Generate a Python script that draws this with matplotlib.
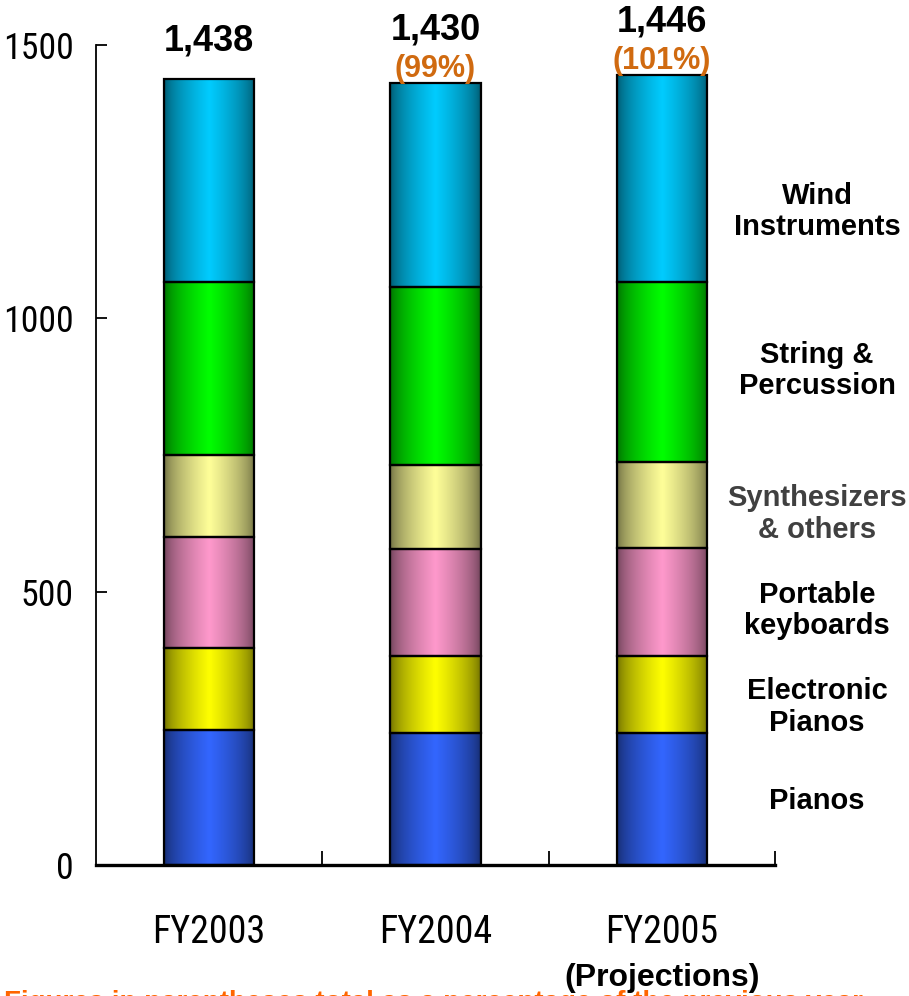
import numpy as np
import matplotlib.pyplot as plt
from matplotlib import font_manager as fm
from matplotlib.colors import to_rgb
from matplotlib.textpath import TextPath

# sales by product group (billion yen)
years = ['FY2003', 'FY2004', 'FY2005']
pianos = [247, 242, 242]
electronic_pianos = [150, 141, 141]
portable_keyboards = [203, 195, 196]
synthesizers = [150, 154, 158]
string_percussion = [317, 326, 330]
wind_instruments = [371, 372, 379]
totals = [1438, 1430, 1446]
pct_prev = [None, '(99%)', '(101%)']

group_names = ['Pianos', 'Electronic\nPianos', 'Portable\nkeyboards',
               'Synthesizers\n& others', 'String &\nPercussion', 'Wind\nInstruments']
group_colors = ['#3366ff', '#ffff00', '#ff99cc', '#ffff99', '#00ff00', '#00ccff']
name_colors = ['black', 'black', 'black', '#404040', 'black', 'black']
name_y = [117, 289, 465, 642, 904, 1196]

bold = ['Liberation Sans', 'DejaVu Sans']


def narrow_font():
    # pick a condensed/narrow regular face if one is installed
    prefs = ['Liberation Sans Narrow', 'Roboto Condensed', 'Noto Sans',
             'Open Sans', 'DejaVu Sans', 'Roboto']
    found = []
    for f in fm.fontManager.ttflist:
        w = f.weight if isinstance(f.weight, int) else 400
        narrow = (f.stretch in ('condensed', 'semi-condensed', 'extra-condensed',
                                'ultra-condensed')
                  or 'Condensed' in f.name or 'Narrow' in f.name)
        if narrow and f.style == 'normal' and w in (400, 500):
            rank = prefs.index(f.name) if f.name in prefs else len(prefs)
            found.append((rank, abs(w - 400), f.fname))
    if found:
        return fm.FontProperties(fname=sorted(found)[0][2])
    return fm.FontProperties(family='DejaVu Sans')


def fit_size(text, prop, width_px, max_size):
    w = TextPath((0, 0), text, size=1, prop=prop).get_extents().width
    return min(max_size, width_px / (w * 100 / 72))


def shade(color, n=80):
    # cylinder-like horizontal gradient: dark edges, bright middle
    t = np.linspace(0, 1, n)
    f = 0.42 + 0.58 * (1 - np.abs(2 * t - 1)) ** 0.6
    return np.clip(np.outer(f, to_rgb(color)), 0, 1)[None, :, :]


cond = narrow_font()
ysize = fit_size('1500', cond, 66, 40)
xsize = fit_size('FY2003', cond, 108, 40)

fig = plt.figure(figsize=(9.09, 9.96), dpi=100)
ax = fig.add_axes([96 / 909, 131 / 996, 679 / 909, 820 / 996])

groups = [pianos, electronic_pianos, portable_keyboards, synthesizers,
          string_percussion, wind_instruments]
x = np.arange(len(years))
width = 0.4
bottom = np.zeros(len(years))
for vals, col in zip(groups, group_colors):
    vals = np.array(vals, dtype=float)
    for xi, b, v in zip(x, bottom, vals):
        ax.imshow(shade(col), extent=[xi - width / 2, xi + width / 2, b, b + v],
                  aspect='auto', interpolation='bicubic', zorder=2)
    ax.bar(x, vals, width, bottom=bottom, facecolor='none',
           edgecolor='black', linewidth=1.6, zorder=3)
    bottom += vals

ax.set_xlim(-0.5, 2.5)
ax.set_ylim(0, 1500)

for xi, tot, pct in zip(x, totals, pct_prev):
    off = 27 if pct is None else 38
    ax.annotate(f'{tot:,}', (xi, tot), xytext=(0, off), textcoords='offset points',
                ha='center', va='center', fontsize=26, fontweight='bold',
                family=bold, annotation_clip=False)
    if pct:
        ax.annotate(pct, (xi, tot), xytext=(0, 10), textcoords='offset points',
                    ha='center', va='center', fontsize=22, fontweight='bold',
                    family=bold, color='#d06a10', annotation_clip=False)

for name, yv, c in zip(group_names, name_y, name_colors):
    ax.text(2.686, yv, name, ha='center', va='center', fontsize=21,
            fontweight='bold', family=bold, color=c, linespacing=1.15, clip_on=False)

for side in ['top', 'right']:
    ax.spines[side].set_visible(False)
ax.spines['left'].set_linewidth(1.3)
ax.spines['bottom'].set_linewidth(2.4)

ax.set_yticks([0, 500, 1000, 1500])
ax.tick_params(axis='y', direction='in', length=8, width=1.3, pad=16)
for lbl in ax.get_yticklabels():
    lbl.set_fontproperties(cond)
    lbl.set_fontsize(ysize)

ax.set_xticks(x)
ax.set_xticklabels(years)
for lbl in ax.get_xticklabels():
    lbl.set_fontproperties(cond)
    lbl.set_fontsize(xsize)
ax.set_xticks([0.5, 1.5, 2.5], minor=True)
ax.tick_params(axis='x', which='major', length=0, pad=35)
ax.tick_params(axis='x', which='minor', direction='in', length=10, width=1.3)

ax.text(2, -0.138, '(Projections)', transform=ax.get_xaxis_transform(),
        ha='center', va='center', fontsize=23, fontweight='bold', family=bold)

fig.text(4 / 909, 6 / 996, 'Figures in parentheses total as a percentage of the previous year',
         ha='left', va='top', fontsize=20, fontweight='bold', family=bold,
         color='#ff6600')

fig.savefig('out.png', dpi=100)
